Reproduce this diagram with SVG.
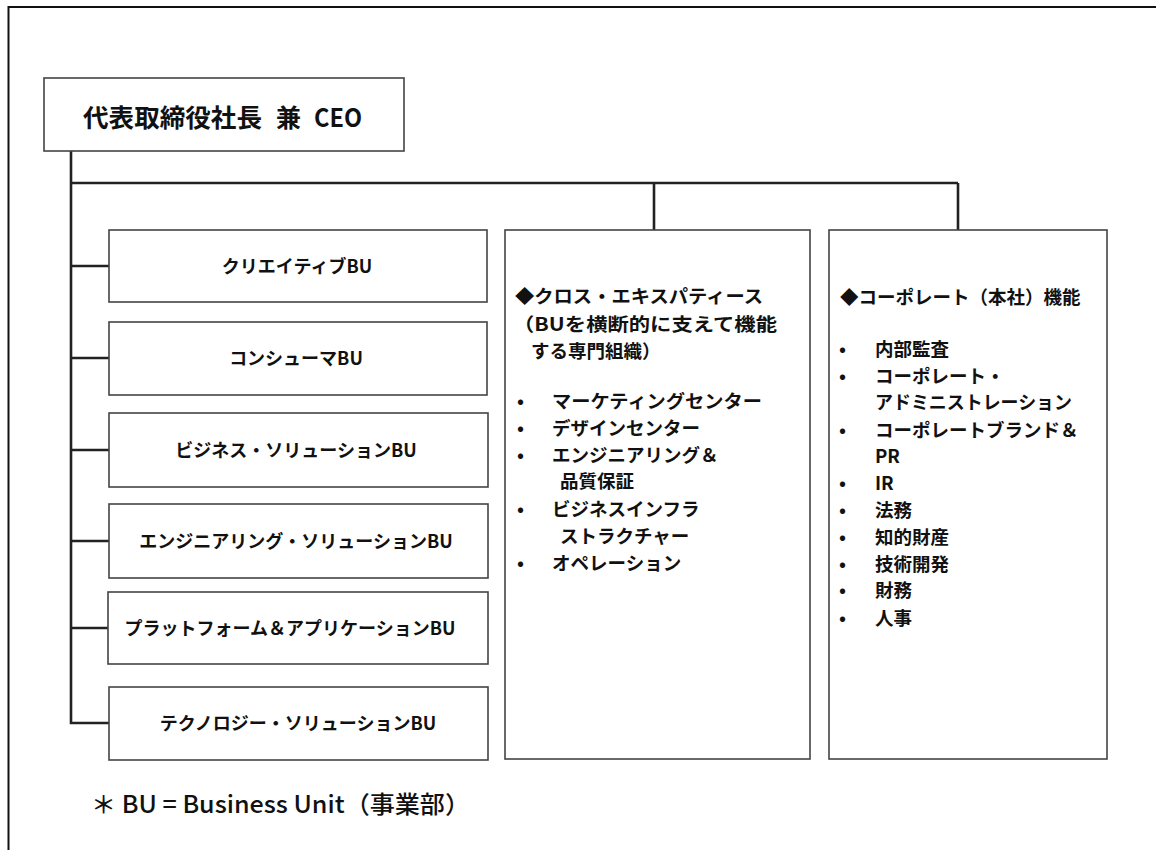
<svg xmlns="http://www.w3.org/2000/svg" width="1156" height="850" viewBox="0 0 1156 850">
<style>
.box{fill:#fff;stroke:#444;stroke-width:1.6}
.con{fill:none;stroke:#222;stroke-width:2.6}
.t{font-family:"Noto Sans CJK JP","Noto Sans",sans-serif;fill:#111}
.bu{font-size:18px;font-weight:700;text-anchor:middle}
.li{font-size:18.5px;font-weight:700}
</style>
<rect x="0" y="0" width="1156" height="850" fill="#fff"/>
<rect x="8.5" y="7" width="1160" height="860" fill="none" stroke="#111" stroke-width="2"/>
<g id="connectors">
<path class="con" d="M71,151 V723 H109"/>
<path class="con" d="M71,266 H109 M71,358 H109 M71,450 H109 M71,541 H109 M71,628 H108"/>
<path class="con" d="M71,183 H958 M654,183 V230 M958,183 V230"/>
</g>
<g id="ceo">
<rect class="box" x="44" y="78" width="360" height="73"/>
<text class="t" y="127" font-size="25" font-weight="700"><tspan x="83" textLength="179" lengthAdjust="spacingAndGlyphs">代表取締役社長</tspan><tspan x="276">兼</tspan><tspan x="314" textLength="48" lengthAdjust="spacingAndGlyphs">CEO</tspan></text>
</g>
<g id="bu1"><rect class="box" x="109" y="230" width="378" height="72"/><text class="t bu" x="297" y="273">クリエイティブBU</text></g>
<g id="bu2"><rect class="box" x="109" y="322" width="378" height="73"/><text class="t bu" x="296" y="365">コンシューマBU</text></g>
<g id="bu3"><rect class="box" x="109" y="413" width="379" height="74"/><text class="t bu" x="296" y="457">ビジネス・ソリューションBU</text></g>
<g id="bu4"><rect class="box" x="109" y="504" width="379" height="74"/><text class="t bu" x="296" y="548">エンジニアリング・ソリューションBU</text></g>
<g id="bu5"><rect class="box" x="108" y="592" width="380" height="72"/><text class="t bu" x="290" y="635">プラットフォーム＆アプリケーションBU</text></g>
<g id="bu6"><rect class="box" x="109" y="687" width="379" height="73"/><text class="t bu" x="298" y="730">テクノロジー・ソリューションBU</text></g>
<g id="cross">
<rect class="box" x="505" y="230" width="305" height="529"/>
<text class="t li" x="515" y="303" textLength="248" lengthAdjust="spacingAndGlyphs">◆クロス・エキスパティース</text>
<text class="t li" x="513" y="331" textLength="264" lengthAdjust="spacingAndGlyphs">（BUを横断的に支えて機能</text>
<text class="t li" x="531" y="358">する専門組織）</text>
<g class="t li">
<text x="517" y="408">•</text><text x="552" y="408" textLength="210" lengthAdjust="spacingAndGlyphs">マーケティングセンター</text>
<text x="517" y="435">•</text><text x="552" y="435">デザインセンター</text>
<text x="517" y="462">•</text><text x="552" y="462">エンジニアリング＆</text>
<text x="560" y="488">品質保証</text>
<text x="517" y="516">•</text><text x="552" y="516">ビジネスインフラ</text>
<text x="560" y="543">ストラクチャー</text>
<text x="517" y="570">•</text><text x="552" y="570">オペレーション</text>
</g>
</g>
<g id="corporate">
<rect class="box" x="829" y="230" width="278" height="529"/>
<text class="t li" x="840" y="304">◆コーポレート（本社）機能</text>
<g class="t li">
<text x="839" y="356">•</text><text x="875" y="356">内部監査</text>
<text x="839" y="383">•</text><text x="875" y="383">コーポレート・</text>
<text x="875" y="409" textLength="197" lengthAdjust="spacingAndGlyphs">アドミニストレーション</text>
<text x="839" y="437">•</text><text x="875" y="437">コーポレートブランド＆</text>
<text x="875" y="463">PR</text>
<text x="839" y="490">•</text><text x="875" y="490">IR</text>
<text x="839" y="517">•</text><text x="875" y="517">法務</text>
<text x="839" y="544">•</text><text x="875" y="544">知的財産</text>
<text x="839" y="571">•</text><text x="875" y="571">技術開発</text>
<text x="839" y="597">•</text><text x="875" y="597">財務</text>
<text x="839" y="625">•</text><text x="875" y="625">人事</text>
</g>
</g>
<text class="t" x="91" y="813" font-size="24" font-weight="500" textLength="379" lengthAdjust="spacingAndGlyphs">＊ BU = Business Unit（事業部）</text>
</svg>
